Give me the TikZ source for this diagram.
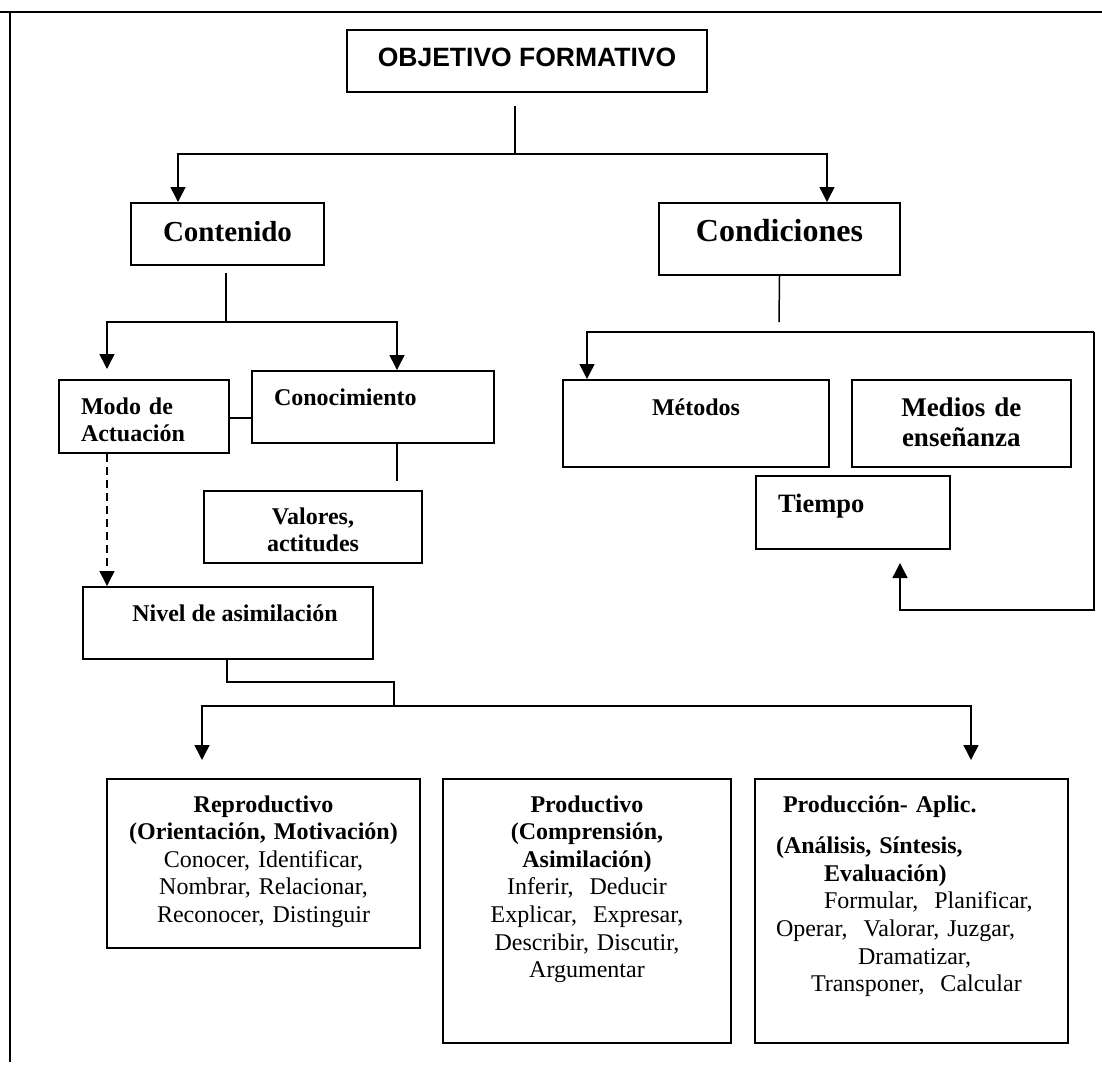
\documentclass[tikz,border=0pt]{standalone}
\usepackage{fontspec}
\setmainfont{Liberation Serif}
\newfontfamily\arialfont{Liberation Sans}
\usetikzlibrary{arrows.meta, positioning, calc}

\begin{document}
\begin{tikzpicture}[
        x = 1pt, y = -1pt,
        box/.style = {draw, line width=2pt, anchor=north west, inner sep=0pt},
        hd/.style = {font=\fontsize{24}{27}\selectfont\bfseries},
        body/.style = {font=\fontsize{24}{27.6}\selectfont},
        link/.style = {line width=1.5pt},
        edge/.style = {link, -{Triangle[length=15pt, width=15pt]}}
    ]
    \useasboundingbox (0,0) rectangle (1102,1066);
    % page frame
    \draw[line width=2pt] (0,12) -- (1102,12);
    \draw[link] (10,12) -- (10,1062);

    \node[box, minimum width=360pt, text height=36pt, text depth=26pt,
          font=\arialfont\fontsize{26.5}{30}\selectfont\bfseries] (obj) at (346,29) {OBJETIVO FORMATIVO};
    \node[box, minimum width=193pt, text height=38pt, text depth=24pt,
          font=\fontsize{29}{33}\selectfont\bfseries] (cont) at (130,202) {Contenido};
    \node[box, minimum width=241pt, text height=38pt, text depth=34pt,
          font=\fontsize{32}{36}\selectfont\bfseries] (cond) at (658,202) {Condiciones};

    % contenido
    \node[box, hd, text width=126pt, inner xsep=22pt, align=left, text height=34pt, text depth=39pt] (modo) at (58,379) {Modo de\\Actuación};
    \node[box, hd, text width=198pt, inner xsep=22pt, align=left, text height=34pt, text depth=38pt] (conoc) at (251,370) {Conocimiento};
    \node[box, hd, text width=218pt, align=center, text height=33pt, text depth=39pt] (val) at (203,490) {Valores,\\actitudes};
    \node[box, hd, minimum width=290pt, text height=34pt, text depth=38pt] (nivel) at (82,586) {\hspace*{14pt}Nivel de asimilación};

    % condiciones
    \node[box, hd, minimum width=266pt, text height=35pt, text depth=52pt] (met) at (562,379) {Métodos};
    \node[box, text width=218.5pt, align=center, text height=36pt, text depth=51pt,
          font=\fontsize{27}{30}\selectfont\bfseries] (medios) at (851,379) {Medios de\\enseñanza};
    \node[box, text width=150pt, inner xsep=22pt, align=left, text height=36pt, text depth=37pt,
          font=\fontsize{26.5}{30}\selectfont\bfseries] (tiempo) at (755,475) {Tiempo};

    % niveles
    \node[box, body, text width=313pt, align=center, text height=33pt, text depth=136pt] (repro) at (106,778)
        {\textbf{Reproductivo}\\\textbf{(Orientación, Motivación)}\\Conocer, Identificar,\\Nombrar, Relacionar,\\Reconocer, Distinguir};
    \node[box, body, text width=288pt, align=center, text height=33pt, text depth=231pt] (prod) at (442,778)
        {\textbf{Productivo}\\\textbf{(Comprensión,}\\\textbf{Asimilación)}\\Inferir,~ Deducir\\Explicar,~ Expresar,\\Describir, Discutir,\\Argumentar};
    \node[box, body, text width=271pt, inner xsep=21pt, align=left, text height=33pt, text depth=231pt] (aplic) at (754,778)
        {\hspace*{7pt}\textbf{Producción- Aplic.}\\[14pt]\textbf{(Análisis, Síntesis,}\\\hspace*{48pt}\textbf{Evaluación)}\\\hspace*{48pt}Formular,~ Planificar,\\Operar,~ Valorar, Juzgar,\\\hspace*{82pt}Dramatizar,\\\hspace*{35pt}Transponer,~ Calcular};

    % connectors
    \coordinate (o1) at (515,106);
    \coordinate (o2) at (515,154);
    \draw[link] (o1) -- (o2);
    \draw[edge] (o2) -| (cont.north -| 178,0);
    \draw[edge] (o2) -| (cond.north -| 827,0);

    \coordinate (c1) at (226,273);
    \coordinate (c2) at (226,322);
    \coordinate (m1) at (107,369);
    \draw[link] (c1) -- (c2);
    \draw[edge] (c2) -| (m1);
    \draw[edge] (c2) -| (conoc.north -| 397,0);
    \draw[link] (modo.east |- 0,418) -- (conoc.west |- 0,418);
    \draw[link] (conoc.south -| 397,0) -- (397,481);
    \draw[edge, dash pattern=on 8pt off 5pt] (modo.south -| 107,0) -- (nivel.north -| 107,0);

    \coordinate (k1) at (1094,332);
    \coordinate (t1) at (900,563);
    \draw[link] (cond.south) -- (779,322);
    \draw[edge] (k1) -| (met.north -| 587,0);
    \draw[edge] (k1) -- (1094,610) -| (t1);

    \coordinate (n1) at (394,706);
    \coordinate (r1) at (202,760);
    \coordinate (a1) at (971,760);
    \draw[link] (nivel.south -| 227,0) |- (394,682) -- (n1);
    \draw[edge] (n1) -| (r1);
    \draw[edge] (n1) -| (a1);
\end{tikzpicture}
\end{document}
